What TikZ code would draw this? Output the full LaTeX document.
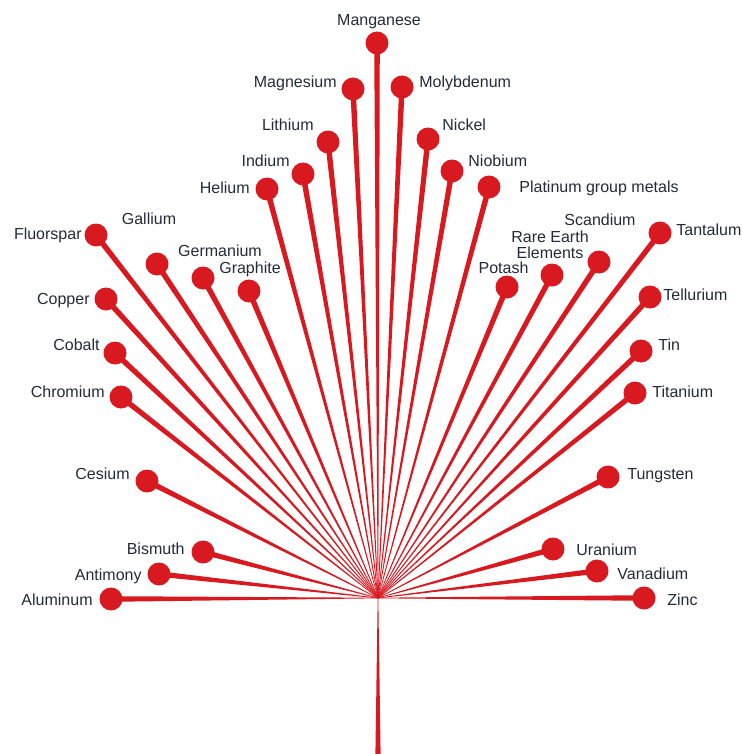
\documentclass[tikz,border=0pt]{standalone}
\usepackage{fontspec}
\setmainfont{Liberation Sans}
\usepackage{tikz}
\usetikzlibrary{positioning,calc,backgrounds}
\definecolor{spokered}{HTML}{D81920}
\definecolor{labelnavy}{HTML}{232A3A}
\tikzset{
  ball/.style={circle, fill=spokered, minimum size=23pt, inner sep=0pt},
  elabel/.style={font=\fontsize{16}{16.5}\selectfont, text=labelnavy, inner sep=0pt, text height=11pt, text depth=0pt},
}

\begin{document}
\begin{tikzpicture}[x=1pt, y=-1pt]
  \useasboundingbox (0,0) rectangle (741,754);
  \coordinate (hub) at (378,598);
  \coordinate (stemfoot) at (378,754);

  % balls, left side
  \node[ball] (mn) at (377,43) {};
  \node[ball] (mg) at (353,89) {};
  \node[ball] (li) at (328,142) {};
  \node[ball] (ind) at (303,174) {};
  \node[ball] (he) at (267,189) {};
  \node[ball] (fl) at (96,235) {};
  \node[ball] (ga) at (157,264) {};
  \node[ball] (ge) at (203,278) {};
  \node[ball] (gr) at (249,291) {};
  \node[ball] (cu) at (106,299) {};
  \node[ball] (co) at (115,353) {};
  \node[ball] (cr) at (121,397) {};
  \node[ball] (cs) at (147,481) {};
  \node[ball] (bi) at (203,552) {};
  \node[ball] (sb) at (159,574) {};
  \node[ball] (al) at (111,599) {};
  % balls, right side
  \node[ball] (mo) at (402,87) {};
  \node[ball] (ni) at (428,139) {};
  \node[ball] (nb) at (452,171) {};
  \node[ball] (pgm) at (489,187) {};
  \node[ball] (po) at (507,287) {};
  \node[ball] (ree) at (552,275) {};
  \node[ball] (sc) at (599,262) {};
  \node[ball] (ta) at (660,233) {};
  \node[ball] (te) at (650,297) {};
  \node[ball] (sn) at (641,351) {};
  \node[ball] (ti) at (635,393) {};
  \node[ball] (wo) at (608,477) {};
  \node[ball] (ur) at (553,549) {};
  \node[ball] (va) at (597,571) {};
  \node[ball] (zn) at (644,598) {};

  % labels
  \node[elabel, above=6pt of mn, xshift=2pt] (lmn) {Manganese};
  \node[elabel, left=4.5pt of mg, yshift=7pt] (lmg) {Magnesium};
  \node[elabel, left=2.5pt of li, yshift=17pt] (lli) {Lithium};
  \node[elabel, left=1.5pt of ind, yshift=13pt] (lind) {Indium};
  \node[elabel, left=5.5pt of he, yshift=1pt] (lhe) {Helium};
  \node[elabel, left=2.5pt of fl, yshift=1pt] (lfl) {Fluorspar};
  \node[elabel, above=28pt of ga, xshift=-8pt] (lga) {Gallium};
  \node[elabel, above=10pt of ge, xshift=17pt] (lge) {Germanium};
  \node[elabel, above=6pt of gr, xshift=1pt] (lgr) {Graphite};
  \node[elabel, left=4.5pt of cu] (lcu) {Copper};
  \node[elabel, left=3.5pt of co, yshift=8pt] (lco) {Cobalt};
  \node[elabel, left=4.5pt of cr, yshift=5pt] (lcr) {Chromium};
  \node[elabel, left=5.5pt of cs, yshift=7pt] (lcs) {Cesium};
  \node[elabel, left=6.5pt of bi, yshift=3pt] (lbi) {Bismuth};
  \node[elabel, left=5.5pt of sb, yshift=-1pt] (lsb) {Antimony};
  \node[elabel, left=6.5pt of al, yshift=-1pt] (lal) {Aluminum};
  \node[elabel, right=5.5pt of mo, yshift=5pt] (lmo) {Molybdenum};
  \node[elabel, right=2.5pt of ni, yshift=14pt] (lni) {Nickel};
  \node[elabel, right=4.5pt of nb, yshift=10pt] (lnb) {Niobium};
  \node[elabel, right=18.5pt of pgm] (lpgm) {Platinum group metals};
  \node[elabel, above=2pt of po, xshift=-3.5pt] (lpo) {Potash};
  \node[elabel, align=center, text depth=16.5pt, above=6pt of ree, xshift=-2pt, yshift=-18pt] (lree) {Rare Earth\\Elements};
  \node[elabel, above=25pt of sc, xshift=1pt] (lsc) {Scandium};
  \node[elabel, right=4.5pt of ta, yshift=3pt] (lta) {Tantalum};
  \node[elabel, right=1.5pt of te, yshift=2pt] (lte) {Tellurium};
  \node[elabel, right=5.5pt of sn, yshift=6pt] (lsn) {Tin};
  \node[elabel, right=5.5pt of ti, yshift=1pt] (lti) {Titanium};
  \node[elabel, right=7.5pt of wo, yshift=3pt] (lwo) {Tungsten};
  \node[elabel, right=11.5pt of ur, yshift=-1pt] (lur) {Uranium};
  \node[elabel, right=8.5pt of va, yshift=-3pt] (lva) {Vanadium};
  \node[elabel, right=11.5pt of zn, yshift=-2pt] (lzn) {Zinc};

  % tapered spokes and stem
  \begin{scope}[on background layer]
    \foreach \b in {mn,mg,li,ind,he,fl,ga,ge,gr,cu,co,cr,cs,bi,sb,al,mo,ni,nb,pgm,po,ree,sc,ta,te,sn,ti,wo,ur,va,zn}
      \fill[spokered] ($(hub)!0.3pt!90:(\b)$) -- ($(\b)!2.8pt!-90:(hub)$) -- ($(\b)!2.8pt!90:(hub)$) -- ($(hub)!0.3pt!-90:(\b)$) -- cycle;
    \fill[spokered] ($(hub)!0.3pt!90:(stemfoot)$) -- ($(stemfoot)!2.6pt!-90:(hub)$) -- ($(stemfoot)!2.6pt!90:(hub)$) -- ($(hub)!0.3pt!-90:(stemfoot)$) -- cycle;
  \end{scope}
\end{tikzpicture}
\end{document}
